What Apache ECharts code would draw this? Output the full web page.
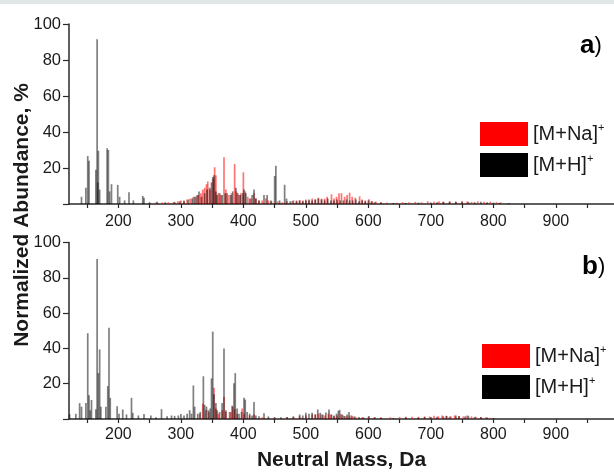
<!DOCTYPE html>
<html>
<head>
<meta charset="utf-8">
<script src="https://cdn.jsdelivr.net/npm/echarts@6/dist/echarts.min.js"></script>
<style>html,body{margin:0;padding:0;background:#fff}#c{width:614px;height:472px}</style>
</head>
<body>
<div id="c"></div>
<script>
// ---------- data (Neutral Mass, Da / Normalized Abundance, %) ----------
const xTickValues = [150,200,250,300,350,400,450,500,550,600,650,700,750,800,850,900,950];
const xLabelValues = [200,300,400,500,600,700,800,900];
const seriesNames = ['[M+Na]+', '[M+H]+'];

// Panel a) [M+Na]+
const massNaA = [260,270,280,288,295,300,305,310,315,320,324,328,332,335,338,341,343,347,352,354,356,360,364,369,372,377,381,386,389,393,396,400,403,407,412,417,420,425,430,436,440,445,455,462,470,478,485,490,495,500,505,510,515,520,525,530,534,541,545,549,553,557,562,566,570,574,579,586,590,595,601,606,612,620,630,645,655,665,675,685,695,705,713,720,730,740,750,758,765,775,785,795,805,812];
const abundNaA = [0.8,0.8,1,1,1.5,2,1.5,2.5,3,4,4,5,6,8,9,11,12.5,8,14,20.4,16,6,5,26,8,5,6,22.2,7,5,6,17.6,7,4,3,6,3,2,2,3,2,1.5,1.5,1,1.5,1.5,2,2,2,2.5,2,3,2.5,3.5,3,3,4,5.4,3,4,6,6,4,5,6.3,4,3.5,4.2,2.5,2,2.6,1.5,1.4,1,0.8,0.7,1,1,1.2,1,1.5,1.3,1.5,1.3,1.5,1.3,1.5,1.4,1.2,1.5,1.2,1.3,1,0.8];

// Panel a) [M+H]+
const massHA = [141,148,151,153,164,166,167,168,170,182,184,186,189,199,202,210,217,224,239,241,250,262,275,290,298,305,312,318,322,326,329,333,338,342,346,349,351,353,356,358,362,366,371,374,380,383,388,391,395,399,401,404,410,414,417,420,425,433,438,444,450,452,458,466,469,475,480,485,490,495,500,505,510,515,520,525,530,535,540,545,550,555,560,565,570,575,580,585,590,595,600,605,610,620,640,660,680,700,710,720,730,740,750,760,770,780,790,800,810,825];
const abundHA = [4,9,26.6,24,19,91.5,12,29.6,8,31,30,7,11,10.6,4,2,6.5,2,4.5,3.5,1,1.2,1,1.2,1.5,2,2.5,3,4,5,7,4,6,8,9,12,15,16,7,5,6,5,6,6,5,7,9,6,5,6,8,6,3,5,8,3,2,5,5,2,15.6,21.3,2,10.7,3,1.5,2,1.5,2,1.5,2,2.5,2,2.5,3,2.5,2,3,2,2,2.5,2,2,2.5,2,2,2.5,1.5,2,1.5,2,1.5,1,0.8,0.6,0.6,0.8,0.8,1,1.2,1.2,1.3,1.3,1.2,1,1.2,1,0.8,0.6,0.5];

// Panel b) [M+Na]+
const massNaB = [330,335,340,345,353,356,360,366,369,372,380,383,386,390,398,401,410,417,430,450,470,480,490,500,510,515,520,525,530,536,540,545,550,556,560,565,570,575,580,590,600,610,620,635,650,660,670,680,690,698,705,712,718,725,732,738,745,752,758,765,772,780,788,795];
const abundNaB = [3,8.7,5,4,17.7,6,3,5,12.4,4,4,7,5.5,3,6,3,2,2.5,1,0.8,1,1.2,1.5,2,2.5,2.7,3,2.5,2,3,2.5,1.5,2,2.7,2,1.5,2,1.5,1,1,1.3,1,0.8,1,1.2,1.3,1.3,1.2,1.5,1.4,1.8,1.5,2,1.7,1.5,2,1.7,1.5,2,1.5,1.3,1.2,1,0.6];

// Panel b) [M+H]+
const massHB = [122,132,138,141,148,151,153,155,157,164,166,168,170,172,180,183,185,187,198,201,207,213,221,223,232,241,252,260,269,278,285,290,296,300,305,310,314,317,320,322,327,331,336,338,341,344,347,349,351,353,356,358,362,366,369,372,378,382,385,387,390,393,397,401,403,406,410,414,417,420,425,433,440,450,460,470,480,490,495,500,505,510,515,519,523,527,532,537,541,545,549,552,554,558,562,566,569,573,578,585,592,601,610,620,640,660,680,690,700,710,720,725,730,740,745,755,760,770,780,790,800];
const abundHB = [2.7,3,9,7,9,48.6,13.4,5,10.8,5.5,90.6,26,39.4,7,7,18.6,51.7,12,7.2,3,5.4,2.6,12,3.5,2,2.8,2,1,5.6,1.5,2,1.8,2,2.8,2,3,5,3,19,7,3,4,24.2,8,7,5,6,23,49.5,14,9,5,4,9,40,5,4,7.5,20.3,26,6,3,4,12,11,4,3,2,9.7,2,1.5,3.2,1.5,1,1,1.2,1.5,2.5,2,3.5,3,3.5,2.5,5.4,3.5,2.5,3.7,5.4,2.5,2,3,4.6,5.2,2.5,1.7,2.5,4,2,1.5,1.2,1,1.7,1,0.8,0.6,0.8,0.8,1,1.2,1.3,1.5,1.8,1.3,2,1.5,1.5,1.8,1.2,1,0.8,0.5];

// ---------- chart ----------
const FONT = "'Liberation Sans', Arial, sans-serif";
const TXT = '#1a1a1a';
const zip = (m, v) => m.map((x, i) => [x, v[i]]);
const RED = '#ff0000', BLK = '#000000';

function xAxisFor(gridIndex, margin, withName) {
  const ax = {
    type: 'value', gridIndex, min: 121, max: 993,
    axisLine: { show: true, onZero: false, lineStyle: { color: '#2a2a2a', width: 1.5 } },
    axisTick: { show: true, length: 4, customValues: xTickValues, lineStyle: { color: '#2a2a2a', width: 1.2 } },
    axisLabel: { customValues: xLabelValues, margin, fontSize: 16, color: TXT, fontFamily: FONT },
    splitLine: { show: false }
  };
  if (withName) {
    Object.assign(ax, {
      name: 'Neutral Mass, Da', nameLocation: 'middle', nameGap: 31,
      nameTextStyle: { fontSize: 21, fontWeight: 'bold', color: TXT, fontFamily: FONT }
    });
  }
  return ax;
}
function yAxisFor(gridIndex) {
  return {
    type: 'value', gridIndex, min: 0, max: 100, interval: 20,
    axisLine: { show: true, lineStyle: { color: '#2a2a2a', width: 1.5 } },
    axisTick: { show: true, length: 6, lineStyle: { color: '#2a2a2a', width: 1.2 } },
    axisLabel: { margin: 8, fontSize: 16.5, color: TXT, fontFamily: FONT, formatter: v => (v === 0 ? '' : v) },
    splitLine: { show: false }
  };
}
function barSeries(name, idx, data, color, opacity) {
  return {
    type: 'bar', name, xAxisIndex: idx, yAxisIndex: idx, data,
    barWidth: 1.7, barGap: '-100%', animation: false,
    itemStyle: { color, opacity }
  };
}
const legendRich = {
  t: { fontSize: 20, color: TXT, fontFamily: FONT, lineHeight: 24 },
  s: { fontSize: 11, color: TXT, fontFamily: FONT, verticalAlign: 'top', lineHeight: 13 }
};
const legendFmt = n => (n === seriesNames[0] ? '{t|[M+Na]}{s|+}' : '{t|[M+H]}{s|+}');
function legendFor(left, top) {
  return {
    orient: 'vertical', left, top, itemWidth: 48, itemHeight: 24, itemGap: 7,
    icon: 'rect', data: seriesNames, formatter: legendFmt, selectedMode: false,
    itemStyle: { opacity: 1 },
    textStyle: { rich: legendRich }
  };
}
const titleRich = {
  b: { fontSize: 26, fontWeight: 'bold', color: '#000', fontFamily: FONT },
  p: { fontSize: 22, fontWeight: 'normal', color: '#000', fontFamily: FONT }
};

const chart = echarts.init(document.getElementById('c'), null, { renderer: 'canvas' });
chart.setOption({
  animation: false,
  backgroundColor: '#fff',
  grid: [
    { left: 69, right: 0, top: 24, height: 180 },
    { left: 69, right: 0, top: 242.5, height: 180 }
  ],
  xAxis: [xAxisFor(0, 10, false), xAxisFor(1, 8, true)],
  yAxis: [yAxisFor(0), yAxisFor(1)],
  title: [
    { text: '{b|a}{p|)}', left: 580, top: 33, padding: 0, textStyle: { fontWeight: 'normal', rich: titleRich } },
    { text: '{b|b}{p|)}', left: 582, top: 254, padding: 0, textStyle: { fontWeight: 'normal', rich: titleRich } }
  ],
  legend: [legendFor(475, 117), legendFor(477, 339)],
  graphic: [
    { type: 'rect', left: 0, top: 0, shape: { width: 614, height: 4 }, style: { fill: '#e1e7e7' }, silent: true },
    { type: 'text', x: 22, y: 215, rotation: Math.PI / 2,
      style: { text: 'Normalized Abundance, %', font: "bold 21px 'Liberation Sans', Arial, sans-serif",
               fill: TXT, align: 'center', verticalAlign: 'middle' } }
  ],
  series: [
    barSeries(seriesNames[0], 0, zip(massNaA, abundNaA), RED, 0.55),
    barSeries(seriesNames[1], 0, zip(massHA, abundHA), BLK, 0.5),
    barSeries(seriesNames[0], 1, zip(massNaB, abundNaB), RED, 0.55),
    barSeries(seriesNames[1], 1, zip(massHB, abundHB), BLK, 0.5)
  ]
});
</script>
</body>
</html>
